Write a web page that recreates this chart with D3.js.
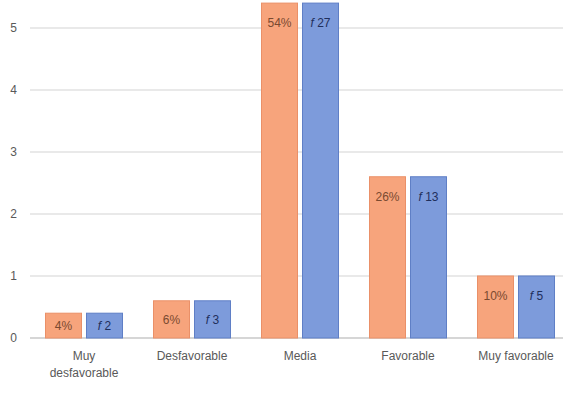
<!DOCTYPE html>
<html>
<head>
<meta charset="utf-8">
<script src="https://cdn.jsdelivr.net/npm/d3@7"></script>
<style>
  html, body { margin: 0; padding: 0; background: #fff; }
  svg { display: block; font-family: "Liberation Sans", Arial, sans-serif; }
</style>
</head>
<body>
<svg id="chart" width="563" height="404"></svg>
<script>
// Opinion categories and their shares / counts
const categories = ["Muy desfavorable", "Desfavorable", "Media", "Favorable", "Muy favorable"];
const categoryLines = [["Muy", "desfavorable"], ["Desfavorable"], ["Media"], ["Favorable"], ["Muy favorable"]];
const percentages = [4, 6, 54, 26, 10];   // %
const frequencies = [2, 3, 27, 13, 5];    // f
const yTicks = [0, 1, 2, 3, 4, 5];

// Both series share the same bar height (percentage on a 0–10 scale)
const heights = percentages.map(p => p / 10);

const svg = d3.select("#chart");
const x0 = 30, x1 = 570, yBase = 338;

const x = d3.scaleBand().domain(categories).range([x0, x1]).paddingInner(0).paddingOuter(0);
const y = d3.scaleLinear().domain([0, 5.45]).range([yBase, 0]);

const barW = 36, gap = 5;

// Gridlines
svg.append("g").selectAll("line").data(yTicks).join("line")
  .attr("x1", x0).attr("x2", 563)
  .attr("y1", d => y(d)).attr("y2", d => y(d))
  .attr("stroke", d => d === 0 ? "#c8c8c8" : "#e2e2e2")
  .attr("stroke-width", 1.5);

// Y tick labels
svg.append("g").selectAll("text").data(yTicks).join("text")
  .attr("x", 17).attr("y", d => y(d)).attr("dy", "0.35em")
  .attr("text-anchor", "end").attr("font-size", 12).attr("fill", "#595959")
  .text(d => d);

const groups = svg.append("g").selectAll("g").data(categories).join("g")
  .attr("transform", d => `translate(${x(d) + x.bandwidth() / 2},0)`);

// Percentage bars (orange)
groups.append("rect")
  .attr("x", -gap / 2 - barW).attr("width", barW)
  .attr("y", (d, i) => y(heights[i])).attr("height", (d, i) => yBase - y(heights[i]))
  .attr("fill", "#f7a47c").attr("stroke", "#ea9068").attr("stroke-width", 1);

// Frequency bars (blue)
groups.append("rect")
  .attr("x", gap / 2).attr("width", barW)
  .attr("y", (d, i) => y(heights[i])).attr("height", (d, i) => yBase - y(heights[i]))
  .attr("fill", "#7d9bdb").attr("stroke", "#5f7fc6").attr("stroke-width", 1);

function labelY(i) {
  const top = y(heights[i]);
  const h = yBase - top;
  return top + Math.min(20, h / 2);
}

groups.append("text")
  .attr("x", -gap / 2 - barW / 2).attr("y", (d, i) => labelY(i)).attr("dy", "0.35em")
  .attr("text-anchor", "middle").attr("font-size", 12).attr("fill", "#7a4a30")
  .text((d, i) => percentages[i] + "%");

const fLabel = groups.append("text")
  .attr("x", gap / 2 + barW / 2).attr("y", (d, i) => labelY(i)).attr("dy", "0.35em")
  .attr("text-anchor", "middle").attr("font-size", 12).attr("fill", "#1f2f5c");
fLabel.append("tspan").attr("font-style", "italic").text("f ");
fLabel.append("tspan").text((d, i) => frequencies[i]);

// Category labels
groups.each(function (d, i) {
  const lines = categoryLines[i];
  const t = d3.select(this).append("text")
    .attr("text-anchor", "middle").attr("font-size", 12).attr("fill", "#595959")
    .attr("y", 360);
  lines.forEach((ln, k) => {
    t.append("tspan").attr("x", 0).attr("dy", k === 0 ? 0 : 17).text(ln);
  });
});
</script>
</body>
</html>
